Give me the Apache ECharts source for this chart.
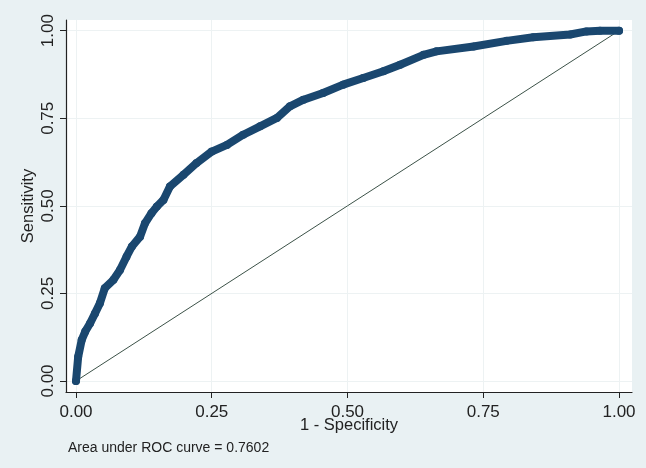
<!DOCTYPE html>
<html>
<head>
<meta charset="utf-8">
<script src="https://cdn.jsdelivr.net/npm/echarts@6/dist/echarts.min.js"></script>
<style>
  html, body { margin: 0; padding: 0; background: #e9f1f3; }
  #chart { width: 646px; height: 468px; }
</style>
</head>
<body>
<div id="chart"></div>
<script>
// ROC curve points (1 - specificity, sensitivity)
const fpr = [0, 0.004, 0.0105, 0.017, 0.026, 0.035, 0.044, 0.053, 0.069, 0.081, 0.093, 0.103, 0.118, 0.127, 0.139, 0.149, 0.161, 0.173, 0.198, 0.222, 0.25, 0.278, 0.308, 0.339, 0.37, 0.394, 0.419, 0.455, 0.492, 0.529, 0.566, 0.597, 0.64, 0.664, 0.732, 0.793, 0.842, 0.91, 0.94, 0.965, 1.0]
const tpr = [0, 0.069, 0.117, 0.141, 0.165, 0.193, 0.222, 0.265, 0.289, 0.317, 0.355, 0.384, 0.412, 0.45, 0.479, 0.498, 0.517, 0.555, 0.589, 0.622, 0.655, 0.674, 0.703, 0.727, 0.751, 0.784, 0.803, 0.822, 0.846, 0.865, 0.884, 0.903, 0.931, 0.941, 0.955, 0.971, 0.981, 0.989, 0.998, 1.0, 1.0]
// reference (chance) line
const refX = [0, 1]
const refY = [0, 1]
const ticks = [0, 0.25, 0.5, 0.75, 1]
const aucText = "Area under ROC curve = 0.7602"

const FONT = "'Liberation Sans', Arial, sans-serif"
const NAVY = "#1a476f"

const chart = echarts.init(document.getElementById("chart"))

const axisCommon = {
  type: "value",
  nameLocation: "middle",
  nameMoveOverlap: false, // keep names where nameGap puts them, like the original
  axisLine: { show: true, onZero: false, lineStyle: { color: "#222", width: 1.2 } },
  axisTick: { show: true, length: 6, customValues: ticks, lineStyle: { color: "#222" } },
  axisLabel: {
    customValues: ticks,
    color: "#222",
    fontFamily: FONT,
    fontSize: 17,
    formatter: v => v.toFixed(2)
  },
  splitLine: { show: true, lineStyle: { color: "#edf2f3", width: 1 } },
  nameTextStyle: { color: "#222", fontFamily: FONT, fontSize: 16.5 }
}

const option = {
  animation: false,
  backgroundColor: "#e9f1f3",
  grid: {
    left: 66, top: 20, right: 14, bottom: 76,
    show: true, backgroundColor: "#ffffff", borderWidth: 0
  },
  xAxis: Object.assign({}, axisCommon, {
    name: "1 - Specificity",
    nameGap: 25,
    min: -0.0184,
    max: 1.0239,
    axisLabel: Object.assign({}, axisCommon.axisLabel, { margin: 12 })
  }),
  yAxis: Object.assign({}, axisCommon, {
    name: "Sensitivity",
    nameGap: 29,
    nameRotate: 90,
    min: -0.0314,
    max: 1.0305,
    axisLabel: Object.assign({}, axisCommon.axisLabel, { rotate: 90, margin: 9 })
  }),
  graphic: [{
    type: "text",
    left: 68,
    top: 441,
    style: { text: aucText, fill: "#222", font: "14px " + FONT }
  }],
  series: [
    {
      name: "ROC",
      type: "line",
      data: fpr.map((x, i) => [x, tpr[i]]),
      symbol: "circle",
      symbolSize: 8,
      itemStyle: { color: NAVY, borderWidth: 0 },
      lineStyle: { color: NAVY, width: 8, cap: "round", join: "round" },
      z: 3
    },
    {
      name: "Reference",
      type: "line",
      data: refX.map((x, i) => [x, refY[i]]),
      symbol: "none",
      lineStyle: { color: "#3c5248", width: 1 },
      z: 2
    }
  ]
}

chart.setOption(option)
</script>
</body>
</html>
